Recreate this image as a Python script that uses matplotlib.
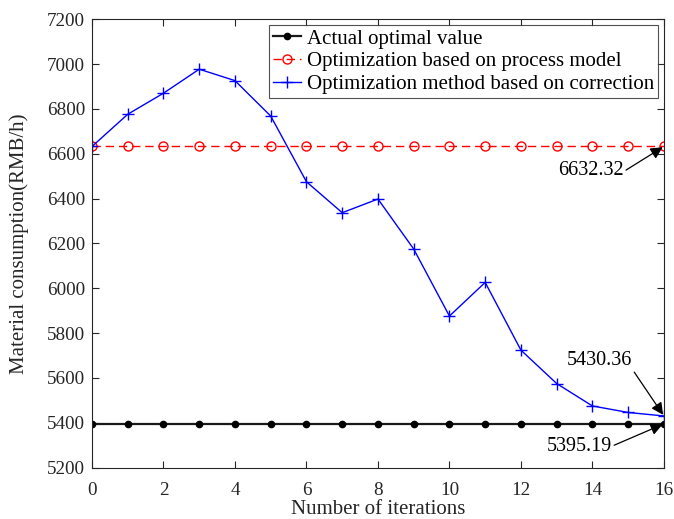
"""
Material consumption vs iteration: actual optimum, model-based optimum, corrected optimization.
"""
import matplotlib
matplotlib.use("Agg")
import matplotlib.pyplot as plt

plt.rcParams["font.family"] = ["Liberation Serif", "DejaVu Serif"]
plt.rcParams["mathtext.fontset"] = "stix"

iterations = list(range(17))
actual_optimal = [5395.19] * 17
process_model = [6632.32] * 17
corrected = [6632.32, 6776, 6870, 6977, 6926, 6768, 6475, 6337, 6398,
             6175, 5876, 6026, 5724, 5575, 5475, 5446, 5430.36]

labels = ["Actual optimal value",
          "Optimization based on process model",
          "Optimization method based on correction"]

AX_COLOR = (0.15, 0.15, 0.15)

fig = plt.figure(figsize=(6.74, 5.19), dpi=100)
ax = fig.add_axes([0.1365, 0.099, 0.8485, 0.864])

ax.plot(iterations, actual_optimal, color=(0.1, 0.1, 0.1), linewidth=1.6,
        marker="o", markersize=4.5, markerfacecolor="k", markeredgecolor="k",
        label=labels[0])
ax.plot(iterations, process_model, color="red", linestyle=(0, (6, 3.5)),
        linewidth=1.0, marker="o", markersize=6.5, markerfacecolor="none",
        markeredgecolor="red", markeredgewidth=1.0, label=labels[1])
ax.plot(iterations, corrected, color="blue", linewidth=1.0, marker="+",
        markersize=9, markeredgewidth=1.0, label=labels[2])

ax.set_xlim(0, 16)
ax.set_ylim(5200, 7200)
ax.set_xticks(range(0, 17, 2))
ax.set_yticks(range(5200, 7201, 200))
ax.tick_params(direction="in", top=True, right=True, labelsize=13.8,
               length=5, width=0.8, color=AX_COLOR, labelcolor=AX_COLOR)
ax.tick_params(axis="x", pad=10)
ax.tick_params(axis="y", pad=5)
for s in ax.spines.values():
    s.set_color(AX_COLOR)
    s.set_linewidth(0.8)

ax.set_xlabel("Number of iterations", fontsize=15, color=AX_COLOR, labelpad=1)
ax.set_ylabel("Material consumption(RMB/h)", fontsize=15, color=AX_COLOR,
              labelpad=13)

leg = ax.legend(loc="upper right", fontsize=15, frameon=True, fancybox=False,
                edgecolor=AX_COLOR, borderpad=0.2, labelspacing=0.15,
                handlelength=1.35, handletextpad=0.25, borderaxespad=0.28)
leg.get_frame().set_linewidth(0.8)

# value call-outs at the last iteration
arrow = dict(arrowstyle="-|>", color="k", lw=0.9, mutation_scale=18,
             shrinkA=0, shrinkB=1)
callouts = [
    (process_model[-1], (13.95, 6524), (14.94, 6527)),
    (corrected[-1], (14.19, 5676), (15.17, 5626)),
    (actual_optimal[-1], (13.64, 5292), (14.61, 5300)),
]
for value, text_xy, tail_xy in callouts:
    ax.text(*text_xy, f"{value:.2f}", fontsize=14.5, ha="center", va="center",
            color="k")
    ax.annotate("", xy=(16, value), xytext=tail_xy, arrowprops=arrow,
                annotation_clip=False)

fig.savefig("out.png", dpi=100)
